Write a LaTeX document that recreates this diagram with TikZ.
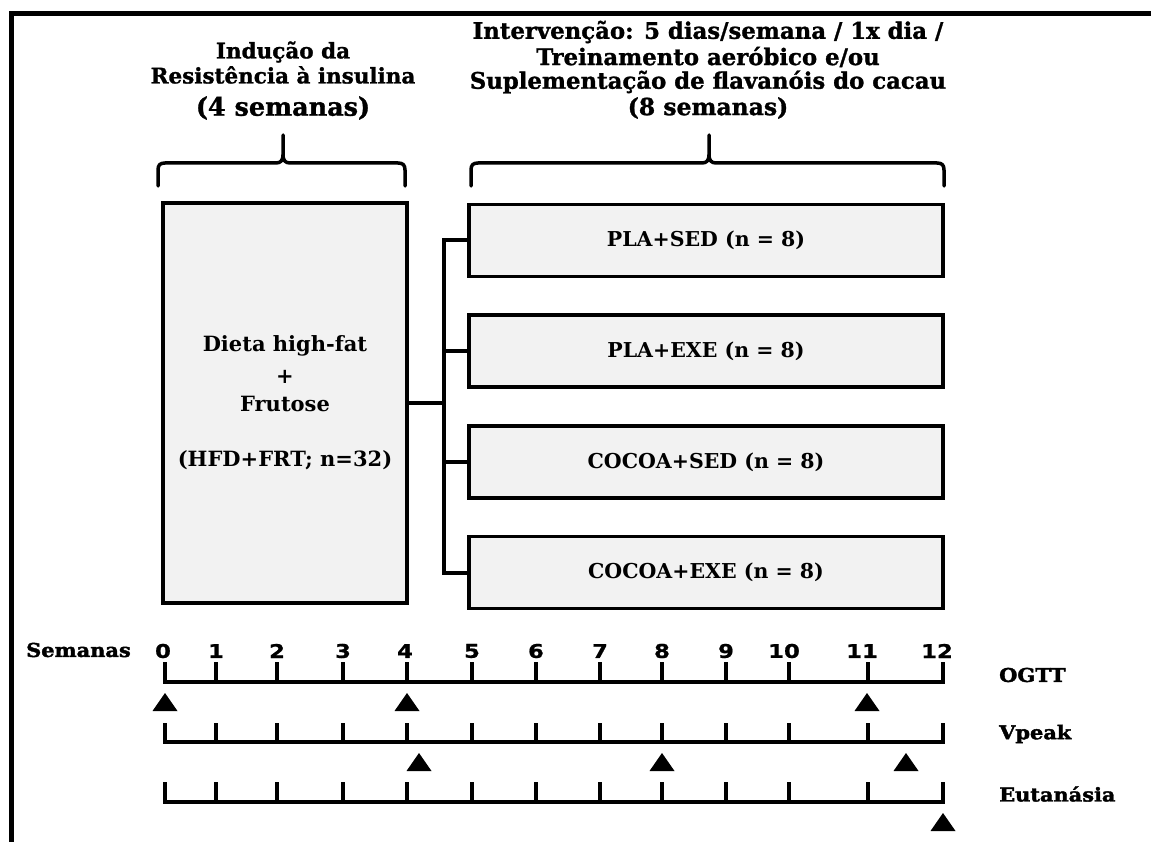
\documentclass[tikz,border=0pt]{standalone}
\usepackage{fontspec}
\setmainfont{DejaVu Serif}
\newfontfamily\numfont{DejaVu Sans}[FakeStretch=1.2, FakeBold=0.8]
\newfontfamily\fatfont{DejaVu Serif}[FakeBold=2, FakeStretch=1.1]
\newfontfamily\headfont{DejaVu Serif}[FakeBold=1.2]
\definecolor{boxgray}{HTML}{F2F2F2}
\tikzset{
  grp/.style={draw=black, line width=3.5pt, fill=boxgray, minimum width=474pt,
    minimum height=72pt, inner sep=0pt, font=\bfseries\fontsize{20.5}{24}\selectfont},
  bigbox/.style={draw=black, line width=3.5pt, fill=boxgray, minimum width=244pt,
    minimum height=400pt, inner sep=0pt, align=center,
    font=\bfseries\fontsize{21}{28}\selectfont},
  conn/.style={line width=4pt},
  brace/.style={line width=3.5pt, line cap=round, line join=round},
  ttlL/.style={font=\headfont\bfseries\fontsize{21.5}{24}\selectfont, inner sep=0pt},
  ttlR/.style={font=\headfont\bfseries\fontsize{22.8}{25}\selectfont, inner sep=0pt},
  axis/.style={line width=4pt, line join=miter},
  num/.style={font=\numfont\bfseries\fontsize{19}{20}\selectfont, inner sep=0pt},
  lab/.style={font=\fatfont\bfseries\fontsize{19}{20}\selectfont, inner sep=0pt, anchor=west},
}
\newcommand{\mytri}[2]{\fill (#1-12.5,-#2-18) -- (#1+12.5,-#2-18) -- (#1,-#2) -- cycle;}
\begin{document}
\begin{tikzpicture}[x=1pt,y=1pt]
\useasboundingbox (0,0) rectangle (1151,-842);
% frame
\draw[line width=5pt, line join=miter] (1160,-13.5) -- (11,-13.5) -- (11,-850);

% titles
\node[ttlL] (t1) at (283,-52) {Indução da};
\node[ttlL] (t2) at (283,-75) {Resistência à insulina};
\node[ttlL, font=\headfont\bfseries\fontsize{25.5}{28}\selectfont] (t3) at (283,-108) {(4 semanas)};
\node[ttlR] (r1) at (708,-32) {Intervenção: 5 dias/semana / 1x dia /};
\node[ttlR] (r2) at (708,-57) {Treinamento aeróbico e/ou};
\node[ttlR] (r3) at (708,-82) {Suplementação de flavanóis do cacau};
\node[ttlR, font=\headfont\bfseries\fontsize{23.5}{26}\selectfont] (r4) at (708,-108) {(8 semanas)};

% braces
\draw[brace] (158,-186) -- (158,-170) .. controls (158,-165) and (160,-163) .. (165,-163)
  -- (276,-163) .. controls (281,-163) and (283,-160) .. (283,-155) -- (283,-135);
\draw[brace] (283,-155) .. controls (283,-160) and (285,-163) .. (290,-163)
  -- (398,-163) .. controls (403,-163) and (405,-165) .. (405,-170) -- (405,-186);
\draw[brace] (471,-186) -- (471,-170) .. controls (471,-165) and (473,-163) .. (478,-163)
  -- (702,-163) .. controls (707,-163) and (709,-160) .. (709,-155) -- (709,-135);
\draw[brace] (709,-155) .. controls (709,-160) and (711,-163) .. (716,-163)
  -- (937,-163) .. controls (942,-163) and (944,-165) .. (944,-170) -- (944,-186);

% boxes
\node[bigbox] (hfd) at (285,-403) {Dieta high-fat\\[4pt] +\\ Frutose\\[27pt] (HFD+FRT; n=32)};
\node[grp] (g1) at (706,-240.5) {PLA+SED (n = 8)};
\node[grp] (g2) at (706,-351) {PLA+EXE (n = 8)};
\node[grp] (g3) at (706,-462) {COCOA+SED (n = 8)};
\node[grp] (g4) at (706,-572.5) {COCOA+EXE (n = 8)};

% connectors
\coordinate (j) at (444,-403);
\draw[conn] (hfd.east) -- (j);
\draw[conn, line join=miter] (g1.west) -- (g1.west -| j) -- (g4.west -| j) -- (g4.west);
\draw[conn] (g2.west) -- (g2.west -| j);
\draw[conn] (g3.west) -- (g3.west -| j);

% timeline
\node[lab] (sem) at (26,-650) {Semanas};
\foreach \x/\n in {163/0,216/1,277/2,343/3,405/4,472/5,536/6,600/7,662/8,726/9,784/10,862/11,937/12}
  \node[num] at (\x,-651) {\n};
\foreach \t/\b in {662/682,723/742,782/802}{
  \draw[axis] (165,-\t) -- (165,-\b) -- (943,-\b) -- (943,-\t);
  \foreach \x in {216,277,343,407,472,536,600,662,726,789,868}
    \draw[axis] (\x,-\t) -- (\x,-\b);
}
\node[lab] (ogtt) at (999,-675) {OGTT};
\node[lab] (vpk) at (999,-734) {Vpeak};
\node[lab] (eut) at (999,-794) {Eutanásia};

% markers
\mytri{165}{693}
\mytri{407}{693}
\mytri{867}{693}
\mytri{419}{753}
\mytri{662}{753}
\mytri{906}{753}
\mytri{943}{813}
\end{tikzpicture}
\end{document}
